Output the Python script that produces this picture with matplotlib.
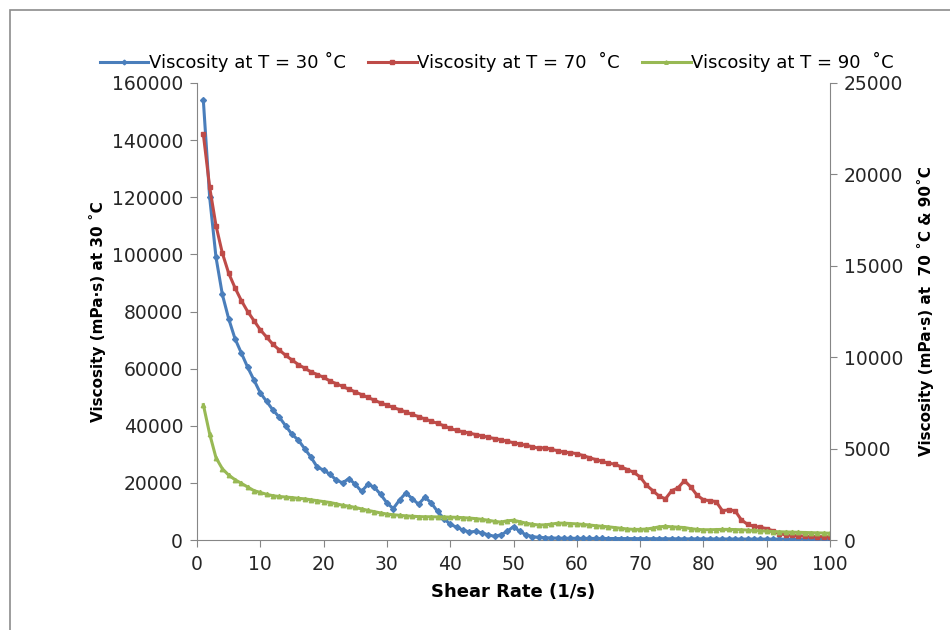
import matplotlib
matplotlib.use("Agg")
import matplotlib.pyplot as plt
from matplotlib.patches import Rectangle

plt.rcParams['font.family'] = ['DejaVu Sans']

# Data (shear rate 1..100 1/s)
shear_rate = list(range(1, 101))

visc_30 = [154000, 120000, 99000, 86000, 77500, 70500, 65500, 60500, 56000, 51500,
           48500, 45500, 43000, 40000, 37000, 35000, 32000, 29000, 25500, 24500,
           23000, 21000, 20000, 21500, 19500, 17000, 19500, 18500, 16000, 13000,
           11000, 14000, 16500, 14500, 12500, 15000, 13000, 10000, 7500, 5500,
           4500, 3500, 2800, 3000, 2500, 1800, 1300, 1800, 3000, 4700,
           3000, 1800, 1200, 900, 800, 700, 650, 600, 600, 580,
           560, 550, 540, 530, 520, 510, 500, 490, 480, 470,
           460, 450, 440, 430, 420, 410, 400, 400, 390, 380,
           370, 360, 350, 350, 340, 330, 320, 320, 310, 300,
           300, 290, 290, 280, 280, 270, 270, 260, 260, 250]

visc_70 = [22200, 19300, 17200, 15700, 14600, 13800, 13100, 12500, 12000, 11500,
           11100, 10700, 10400, 10100, 9850, 9600, 9400, 9200, 9050, 8900,
           8700, 8550, 8400, 8250, 8100, 7950, 7800, 7650, 7500, 7380,
           7250, 7130, 7000, 6870, 6750, 6620, 6500, 6380, 6250, 6100,
           6000, 5920, 5850, 5770, 5700, 5620, 5550, 5480, 5400, 5320,
           5250, 5180, 5100, 5020, 5050, 4960, 4880, 4800, 4780, 4720,
           4620, 4500, 4400, 4300, 4200, 4150, 4000, 3850, 3700, 3450,
           3000, 2700, 2400, 2250, 2700, 2850, 3250, 2900, 2450, 2200,
           2150, 2100, 1600, 1650, 1600, 1100, 850, 750, 700, 620,
           500, 350, 280, 250, 230, 210, 200, 190, 180, 170]

visc_90 = [7400, 5800, 4500, 3900, 3550, 3300, 3100, 2900, 2700, 2600,
           2500, 2420, 2380, 2350, 2320, 2280, 2250, 2200, 2150, 2100,
           2050, 1980, 1900, 1850, 1780, 1700, 1620, 1550, 1480, 1420,
           1380, 1350, 1320, 1300, 1280, 1270, 1270, 1260, 1260, 1250,
           1240, 1220, 1200, 1170, 1130, 1080, 1020, 980, 1050, 1080,
           1000, 920, 860, 820, 830, 870, 920, 920, 900, 880,
           850, 820, 780, 750, 720, 680, 640, 600, 580, 580,
           600, 650, 720, 750, 720, 700, 680, 620, 580, 560,
           560, 570, 580, 580, 570, 560, 540, 520, 500, 480,
           460, 450, 440, 430, 420, 410, 400, 390, 380, 370]

fig = plt.figure(figsize=(9.5, 6.3), dpi=100)
ax = fig.add_axes([197 / 950, 1 - 540 / 630, 633 / 950, 457 / 630])
ax2 = ax.twinx()

# outer frame like the Excel chart area
fig.patches.append(Rectangle((10 / 950, -0.1), 1.2, 1 - 10 / 630 + 0.1,
                             transform=fig.transFigure, fill=False,
                             edgecolor='#8c8c8c', linewidth=1.2))

l1, = ax.plot(shear_rate, visc_30, color='#4A7EBB', lw=2.2, marker='D', ms=3,
              label='Viscosity at T = 30 \u02daC', zorder=3)
l2, = ax2.plot(shear_rate, visc_70, color='#BE4B48', lw=2.2, marker='s', ms=3.2,
               label='Viscosity at T = 70  \u02daC')
l3, = ax2.plot(shear_rate, visc_90, color='#98B954', lw=2.2, marker='^', ms=3.2,
               label='Viscosity at T = 90  \u02daC')

ax.set_xlim(0, 100)
ax.set_ylim(0, 160000)
ax2.set_ylim(0, 25000)
ax.set_xticks(range(0, 101, 10))
ax.set_yticks(range(0, 160001, 20000))
ax2.set_yticks(range(0, 25001, 5000))

for a in (ax, ax2):
    a.spines['top'].set_visible(False)
    for s in a.spines.values():
        s.set_color('#868686')
    a.tick_params(direction='out', length=5, color='#868686', labelsize=13.5,
                  labelcolor='#262626')
ax.spines['right'].set_visible(False)
ax2.spines['left'].set_visible(False)
ax2.spines['bottom'].set_visible(False)
ax.tick_params(axis='y', pad=5)
ax2.tick_params(axis='y', pad=5)
ax.tick_params(axis='x', pad=6)

ax.set_xlabel('Shear Rate (1/s)', fontsize=13, fontweight='bold', labelpad=6)
ax.set_ylabel('Viscosity (mPa\u00b7s) at 30 \u02daC', fontsize=11, fontweight='bold',
              labelpad=4)
ax2.set_ylabel('Viscosity (mPa\u00b7s) at  70 \u02daC & 90\u02daC', fontsize=11,
               fontweight='bold', labelpad=10)

fig.legend(handles=[l1, l2, l3], loc='center', bbox_to_anchor=(0.523, 1 - 62 / 630),
           ncol=3, frameon=False, fontsize=13, handlelength=2.7, handletextpad=0.05,
           columnspacing=1.2, markerscale=0.8)

fig.savefig('out.png', dpi=100)
